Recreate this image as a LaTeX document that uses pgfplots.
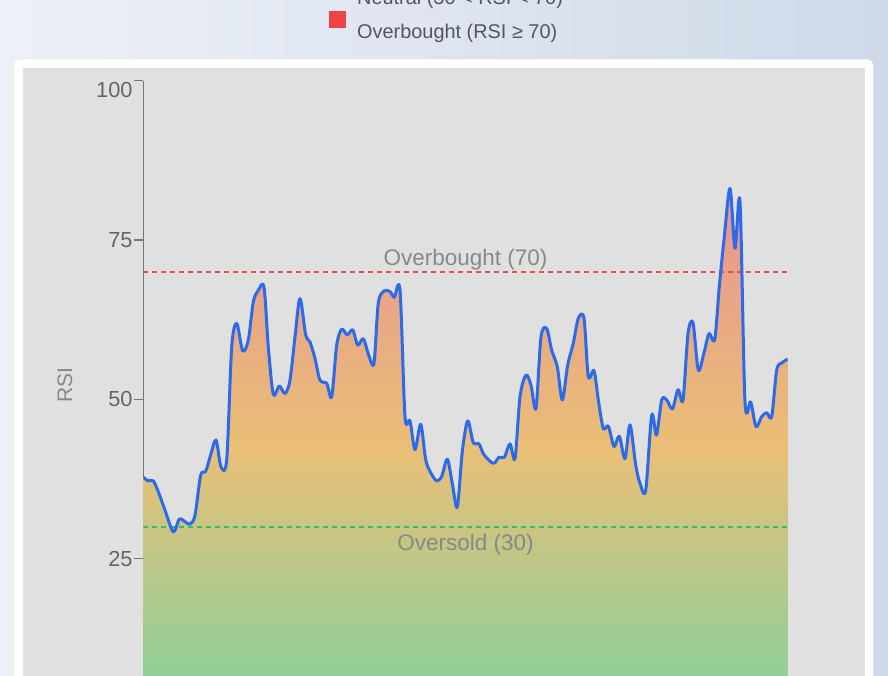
\documentclass[border=0pt]{standalone}
\usepackage{fontspec}
\setmainfont{Liberation Sans}
\usepackage{pgfplots}
\usepackage{pgfplotstable}
\pgfplotsset{compat=1.18}
\definecolor{bgL}{HTML}{EDF1F7}
\definecolor{bgR}{HTML}{CFD9E8}
\definecolor{plotgray}{HTML}{E0E0E0}
\definecolor{legred}{HTML}{EF4444}
\definecolor{legorange}{HTML}{F59E0B}
\definecolor{legtext}{HTML}{51565F}
\definecolor{tickgray}{HTML}{666666}
\definecolor{axisgray}{HTML}{777777}
\definecolor{anngray}{HTML}{888888}
\definecolor{rsiblue}{HTML}{2D69EB}
\definecolor{obred}{HTML}{EF4B4B}
\definecolor{osgreen}{HTML}{2EC36A}
\definecolor{fillTop}{HTML}{E79292}
\definecolor{fillMid}{HTML}{EABF76}
\definecolor{fillBot}{HTML}{81D29F}
\pgfdeclareverticalshading{rsifill}{100bp}{color(0bp)=(fillBot); color(25bp)=(fillBot); color(50bp)=(fillMid); color(75bp)=(fillTop); color(100bp)=(fillTop)}
\pgfplotstableread{
x y
143.3 37.75
148.3 37.2
153.3 37.2
158.3 35.5
165 32.6
173.3 29.2
179.3 31.2
185 30.8
190 30.4
195 31.8
200.7 38.1
205.7 38.7
210.7 41.3
216 43.6
221 39.4
226.7 40.5
231.7 58.2
236.7 61.9
242.7 57.6
248.3 59.3
253.3 65.3
258.3 67.1
264 67.6
268.3 58.2
273.3 50.8
279.3 52.1
285 50.9
290 53.0
295 59.8
300 65.8
305.7 60.1
310 59.0
315 56.4
320 53.0
326.7 52.5
331.7 50.4
336.7 58.5
341.7 61.0
347.3 60.1
352.7 60.9
357.7 58.5
363.3 59.5
369 56.8
374 55.7
378.3 65.1
384 67.0
390 66.9
394.3 66.0
400 67.1
405 47.3
410 46.6
415 42.1
420.7 46.1
425.7 40.5
431 38.4
436.7 37.2
441.7 37.9
447.3 40.6
452.3 36.8
457.3 33.1
462.3 41.8
467.7 46.6
473.3 43.2
479 43.0
484 41.3
493.3 39.95
499 40.9
504.3 40.9
510 43.0
515 40.7
520 50.4
526 53.8
531 52.2
536 48.6
541 59.8
546.7 61.1
551.7 57.7
557.3 55.1
562.3 49.9
567.7 55.4
573.3 58.8
578.3 62.7
584 62.7
588.3 53.6
594 54.5
598.3 49.9
603.3 45.4
608.3 45.8
614 42.6
619.3 44.2
625 40.7
630 46.0
635.7 39.7
640 36.8
645.7 35.7
651.7 47.5
656.5 44.4
661.7 49.9
666.7 49.9
672.5 48.5
678 51.5
683 49.9
688 60.3
693 62.0
698.3 54.6
704 57.3
709 60.3
714.7 59.4
719.3 67.7
724.3 75.5
730 83.1
735 73.7
740 81.0
745 49.6
750.7 49.6
756 45.7
761.7 47.3
766.7 47.9
771.7 47.3
776.7 54.6
781.7 55.7
787.7 56.3
}\rsidata
\begin{document}
\begin{tikzpicture}[x=1pt,y=1pt]
\shade[left color=bgL, right color=bgR] (0,0) rectangle (888,675);
\fill[white, rounded corners=6pt] (14,-30) rectangle (873,615.7);
\fill[plotgray] (22.7,-30) rectangle (865,607.3);
% legend (top part cropped)
\fill[legorange] (329,681.3) rectangle (346,698.3);
\node[anchor=base west, inner sep=0pt, font=\fontsize{19.9}{22}\selectfont, text=legtext] at (357,670) {Neutral (30 < RSI < 70)};
\fill[legred] (329,647.3) rectangle (346,664.3);
\node[anchor=base west, inner sep=0pt, font=\fontsize{19.9}{22}\selectfont, text=legtext] at (357,636) {Overbought (RSI ≥ 70)};
\begin{axis}[
  at={(143.3pt,-42.9pt)}, anchor=south west,
  scale only axis, width=644.4pt, height=637.2pt,
  xmin=143.3, xmax=787.7, ymin=0, ymax=100,
  axis x line=none, axis y line*=left,
  axis line style={draw=axisgray, line width=1.5pt},
  ytick={25,50,75},
  extra y ticks={100},
  extra y tick style={yticklabel style={anchor=north east}},
  tick align=outside, major tick length=9.5pt,
  ytick style={draw=axisgray, line width=1.5pt},
  /pgf/number format/assume math mode=true,
  yticklabel style={font=\fontsize{21.8}{24}\selectfont, text=tickgray, inner sep=1pt},
]
\addplot[smooth, draw=none, shade, shading=rsifill] table {\rsidata} \closedcycle;
\addplot[obred, line width=1.6pt, dash pattern=on 5pt off 4pt] coordinates {(143.3,70) (787.7,70)};
\addplot[osgreen, line width=1.6pt, dash pattern=on 5pt off 4pt] coordinates {(143.3,30) (787.7,30)};
\addplot[smooth, rsiblue, line width=3pt, line join=round, line cap=round] table {\rsidata};
\node[anchor=base, font=\fontsize{22.5}{24}\selectfont, text=anngray] at (axis cs:465.5,70.95) {Overbought (70)};
\node[anchor=base, font=\fontsize{22.5}{24}\selectfont, text=anngray] at (axis cs:465.5,26.2) {Oversold (30)};
\end{axis}
\node[rotate=90, font=\fontsize{21}{22}\selectfont, text=anngray] at (65,290) {RSI};
\pgfresetboundingbox
\path (0,0) rectangle (888,675);
\end{tikzpicture}
\end{document}
